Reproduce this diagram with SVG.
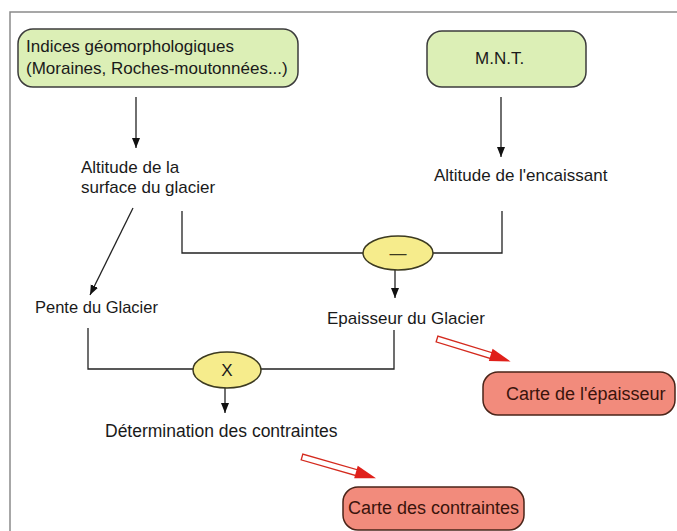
<svg xmlns="http://www.w3.org/2000/svg" width="677" height="531" viewBox="0 0 677 531">
<style>
.t{font-family:"Liberation Sans",Arial,sans-serif;font-size:17px;fill:#1a1a1a}
.tr{font-family:"Liberation Sans",Arial,sans-serif;font-size:18px;fill:#3a140c}
.g{fill:#dcefb6;stroke:#3c3c3c;stroke-width:1.5}
.r{fill:#f28b7c;stroke:#4a2418;stroke-width:1.5}
.e{fill:#f6ec8c;stroke:#3c3a20;stroke-width:1.5}
.c{fill:none;stroke:#222;stroke-width:1.3}
</style>
<defs>
<marker id="ah" markerUnits="userSpaceOnUse" markerWidth="10" markerHeight="10" viewBox="0 0 10 10" refX="10" refY="5" orient="auto">
<path d="M0,1 L10,5 L0,9 Z" fill="#111"/>
</marker>
<g id="ra">
<path d="M0,-3 L58,-3 L58,3 L0,3 Z" fill="#fff" stroke="#d42a1e" stroke-width="1.3"/>
<path d="M56,-7 L77,0 L56,6 Z" fill="#e0201a"/>
</g>
</defs>
<rect x="0" y="0" width="677" height="531" fill="#fff"/>
<path d="M10,531 V12 H677" fill="none" stroke="#8a8a8a" stroke-width="1.5"/>
<g id="connectors">
<path class="c" d="M136,97 V148" marker-end="url(#ah)"/>
<path class="c" d="M501,97 V157" marker-end="url(#ah)"/>
<path class="c" d="M133,208 L90,295" marker-end="url(#ah)"/>
<path class="c" d="M182,211 V253 H502 V211"/>
<path class="c" d="M395,270 V298" marker-end="url(#ah)"/>
<path class="c" d="M88,328 V369 H394 V330"/>
<path class="c" d="M225,388 V413" marker-end="url(#ah)"/>
<use href="#ra" transform="translate(437,339) rotate(17)"/>
<use href="#ra" transform="translate(302,457) rotate(16)"/>
</g>
<g id="n-indices">
<rect class="g" x="18" y="29" width="280" height="58" rx="15"/>
<text class="t" x="26" y="52">Indices géomorphologiques</text>
<text class="t" x="26" y="74">(Moraines, Roches-moutonnées...)</text>
</g>
<g id="n-mnt">
<rect class="g" x="427" y="31" width="159" height="56" rx="15"/>
<text class="t" x="475" y="64">M.N.T.</text>
</g>
<g id="n-altsurf">
<text class="t" x="81" y="173">Altitude de la</text>
<text class="t" x="81" y="193">surface du glacier</text>
</g>
<g id="n-altenc">
<text class="t" x="434" y="181">Altitude de l'encaissant</text>
</g>
<g id="n-minus">
<ellipse class="e" cx="398" cy="253" rx="35" ry="17"/>
<text class="t" x="398" y="259" text-anchor="middle" style="fill:#3c3a20">—</text>
</g>
<g id="n-pente">
<text class="t" x="35" y="313" style="font-size:16.5px">Pente du Glacier</text>
</g>
<g id="n-epaisseur">
<text class="t" x="327" y="324">Epaisseur du Glacier</text>
</g>
<g id="n-x">
<ellipse class="e" cx="227" cy="370" rx="34" ry="18"/>
<text class="t" x="227" y="376" text-anchor="middle">X</text>
</g>
<g id="n-determination">
<text class="t" x="105" y="437" style="font-size:17.5px">Détermination des contraintes</text>
</g>
<g id="n-carte-ep">
<rect class="r" x="483" y="372" width="192" height="43" rx="15"/>
<text class="tr" x="506" y="400">Carte de l'épaisseur</text>
</g>
<g id="n-carte-co">
<rect class="r" x="343" y="487" width="181" height="43" rx="15"/>
<text class="tr" x="348" y="514">Carte des contraintes</text>
</g>
</svg>
